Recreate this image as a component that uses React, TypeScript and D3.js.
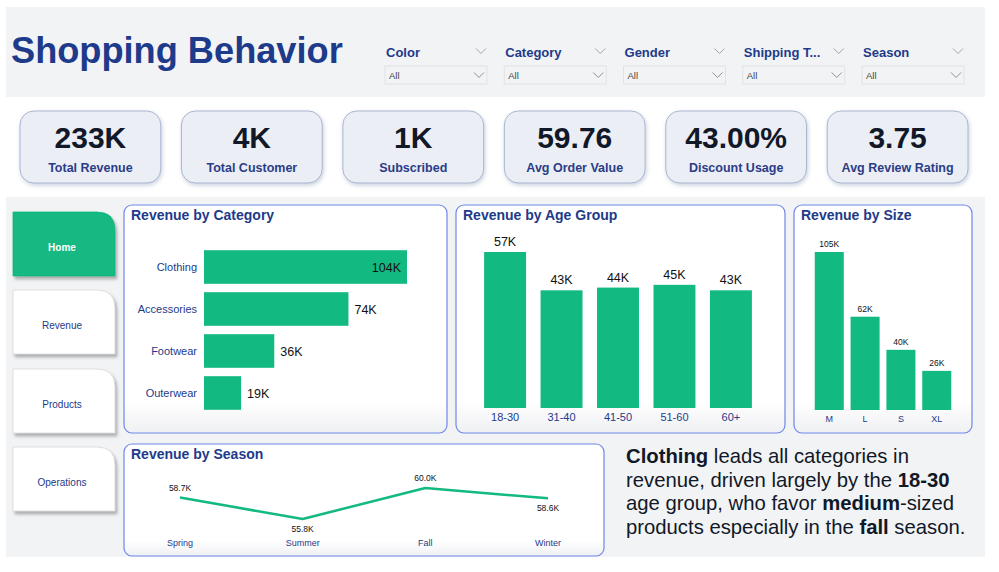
import React from 'react';
import * as d3 from 'd3';

const categories = ['Clothing', 'Accessories', 'Footwear', 'Outerwear'];
const categoryRevenue = [104, 74, 36, 19]; // K
const ageGroups = ['18-30', '31-40', '41-50', '51-60', '60+'];
const ageRevenue = [57, 43, 44, 45, 43];
const sizes = ['M', 'L', 'S', 'XL'];
const sizeRevenue = [105, 62, 40, 26];
const seasons = ['Spring', 'Summer', 'Fall', 'Winter'];
const seasonRevenue = [58.7, 55.8, 60.0, 58.6];
const kpiValues = ['233K', '4K', '1K', '59.76', '43.00%', '3.75'];
const kpiLabels = ['Total Revenue', 'Total Customer', 'Subscribed', 'Avg Order Value', 'Discount Usage', 'Avg Review Rating'];
const filterLabels = ['Color', 'Category', 'Gender', 'Shipping T...', 'Season'];
const navItems = ['Home', 'Revenue', 'Products', 'Operations'];

const GREEN = '#12b981';
const NAVY = '#1e3a8a';
const FONT = 'Arial, "Liberation Sans", sans-serif';
const BORDER = '#6f87ea';

// chevron glyph
const Chevron: React.FC<{ x: number; y: number; color?: string }> = ({ x, y, color = '#9aa0aa' }) => (
  <path d={`M${x - 5},${y - 2.5} L${x},${y + 2.5} L${x + 5},${y - 2.5}`} fill="none" stroke={color} strokeWidth={1} />
);

const Panel: React.FC<{ x: number; y: number; w: number; h: number; title: string }> = ({ x, y, w, h, title }) => (
  <g>
    <rect x={x} y={y} width={w} height={h} rx={8} fill="url(#panelGrad)" stroke={BORDER} strokeWidth={1.2} />
    <text x={x + 7} y={y + 15} fontSize={14} fontWeight="bold" fill={NAVY} fontFamily={FONT}>{title}</text>
  </g>
);

// nav button: square corners except rounded top-right
function navPath(x: number, y: number, w: number, h: number, r: number) {
  return `M${x},${y} H${x + w - r} Q${x + w},${y} ${x + w},${y + r} V${y + h} H${x} Z`;
}

const App: React.FC = () => {
  // Revenue by Category (horizontal bars)
  const catY = d3.scaleBand<string>().domain(categories).range([246, 414]).paddingInner(0.2).paddingOuter(0.1);
  const catX = d3.scaleLinear().domain([0, d3.max(categoryRevenue)!]).range([204, 407]);

  // Revenue by Age Group
  const ageX = d3.scaleBand<string>().domain(ageGroups).range([470, 766]).paddingInner(0.257).paddingOuter(0.25);
  const ageY = d3.scaleLinear().domain([0, d3.max(ageRevenue)!]).range([408, 252]);

  // Revenue by Size
  const sizeX = d3.scaleBand<string>().domain(sizes).range([804, 962]).paddingInner(0.19).paddingOuter(0.3);
  const sizeY = d3.scaleLinear().domain([0, d3.max(sizeRevenue)!]).range([410, 252]);

  // Revenue by Season (line)
  const seasonX = d3.scalePoint<string>().domain(seasons).range([180, 548]);
  const seasonY = d3.scaleLinear().domain([d3.min(seasonRevenue)!, d3.max(seasonRevenue)!]).range([519, 488]);
  const seasonLine = d3.line<number>()
    .x((_, i) => seasonX(seasons[i])!)
    .y(d => seasonY(d));
  const seasonLabelDy = [-7, 13, -7, 13];

  const kpiX = d3.scaleBand<number>().domain(d3.range(kpiValues.length)).range([20, 968]).paddingInner(0.128);
  const filterX = d3.scaleBand<number>().domain(d3.range(filterLabels.length)).range([385, 964]).paddingInner(0.145);
  const navY = [212, 290, 369, 447];

  return (
    <svg width={999} height={572} style={{ position: 'absolute', left: 0, top: 0, background: '#fff' }} fontFamily={FONT}>
      <defs>
        <linearGradient id="panelGrad" x1="0" y1="0" x2="0" y2="1">
          <stop offset="0" stopColor="#ffffff" />
          <stop offset="0.86" stopColor="#ffffff" />
          <stop offset="1" stopColor="#eff0f3" />
        </linearGradient>
        <filter id="navShadow" x="-10%" y="-10%" width="130%" height="130%">
          <feDropShadow dx={2} dy={3} stdDeviation={1.5} floodColor="#777" floodOpacity={0.55} />
        </filter>
        <filter id="cardShadow" x="-10%" y="-10%" width="130%" height="140%">
          <feDropShadow dx={1} dy={2} stdDeviation={2} floodColor="#8a9ab8" floodOpacity={0.45} />
        </filter>
      </defs>

      {/* header */}
      <rect x={6} y={7} width={979} height={90} fill="#f2f3f5" />
      <text x={11} y={63} fontSize={36.2} fontWeight="bold" fill={NAVY}>Shopping Behavior</text>

      {filterLabels.map((f, i) => {
        const x = filterX(i)!;
        const w = filterX.bandwidth();
        return (
          <g key={f}>
            <text x={x + 1} y={57} fontSize={13} fontWeight="bold" fill={NAVY}>{f}</text>
            <Chevron x={x + w - 6} y={51} color="#a0a6b0" />
            <rect x={x} y={66} width={w} height={18} fill="#f2f3f5" stroke="#e0e2e6" strokeWidth={1} />
            <text x={x + 4} y={79} fontSize={9.5} fill="#444">All</text>
            <Chevron x={x + w - 8} y={75} color="#8a909a" />
          </g>
        );
      })}

      {/* KPI cards */}
      {kpiValues.map((v, i) => {
        const x = kpiX(i)!;
        const w = kpiX.bandwidth();
        return (
          <g key={kpiLabels[i]}>
            <rect x={x} y={111} width={w} height={72} rx={14} fill="#eceef6" stroke="#a9b6cf" strokeWidth={1} filter="url(#cardShadow)" />
            <text x={x + w / 2} y={148} textAnchor="middle" fontSize={30} fontWeight="bold" fill="#111827">{v}</text>
            <text x={x + w / 2} y={172} textAnchor="middle" fontSize={12.5} fontWeight="bold" fill="#2a3d86">{kpiLabels[i]}</text>
          </g>
        );
      })}

      {/* lower background */}
      <rect x={6} y={197} width={979} height={360} fill="#f2f3f5" />

      {/* nav */}
      {navItems.map((n, i) => {
        const active = i === 0;
        return (
          <g key={n}>
            <path d={navPath(13, navY[i], 102, 64, 18)} fill={active ? GREEN : '#ffffff'} stroke={active ? GREEN : '#d8d8dc'} strokeWidth={0.8} filter="url(#navShadow)" />
            <text x={62} y={navY[i] + 39} textAnchor="middle" fontSize={10} fontWeight={active ? 'bold' : 'normal'} fill={active ? '#ffffff' : NAVY}>{n}</text>
          </g>
        );
      })}

      {/* Revenue by Category */}
      <Panel x={124} y={205} w={323} h={228} title="Revenue by Category" />
      {categories.map((c, i) => {
        const y = catY(c)!;
        const bw = catY.bandwidth();
        const x1 = catX(categoryRevenue[i]);
        const inside = i === 0;
        return (
          <g key={c}>
            <rect x={catX(0)} y={y} width={x1 - catX(0)} height={bw} fill={GREEN} />
            <text x={197} y={y + bw / 2 + 4} textAnchor="end" fontSize={11} fill={NAVY}>{c}</text>
            <text x={inside ? x1 - 6 : x1 + 6} y={y + bw / 2 + 4.5} textAnchor={inside ? 'end' : 'start'} fontSize={12.5} fill="#111">{categoryRevenue[i]}K</text>
          </g>
        );
      })}

      {/* Revenue by Age Group */}
      <Panel x={456} y={205} w={329} h={228} title="Revenue by Age Group" />
      {ageGroups.map((a, i) => {
        const x = ageX(a)!;
        const bw = ageX.bandwidth();
        return (
          <g key={a}>
            <rect x={x} y={ageY(ageRevenue[i])} width={bw} height={ageY(0) - ageY(ageRevenue[i])} fill={GREEN} />
            <text x={x + bw / 2} y={ageY(ageRevenue[i]) - 6} textAnchor="middle" fontSize={12.5} fill="#111">{ageRevenue[i]}K</text>
            <text x={x + bw / 2} y={421} textAnchor="middle" fontSize={11} fill={NAVY}>{a}</text>
          </g>
        );
      })}

      {/* Revenue by Size */}
      <Panel x={794} y={205} w={178} h={228} title="Revenue by Size" />
      {sizes.map((s, i) => {
        const x = sizeX(s)!;
        const bw = sizeX.bandwidth();
        return (
          <g key={s}>
            <rect x={x} y={sizeY(sizeRevenue[i])} width={bw} height={sizeY(0) - sizeY(sizeRevenue[i])} fill={GREEN} />
            <text x={x + bw / 2} y={sizeY(sizeRevenue[i]) - 5} textAnchor="middle" fontSize={8.5} fill="#111">{sizeRevenue[i]}K</text>
            <text x={x + bw / 2} y={422} textAnchor="middle" fontSize={9} fill={NAVY}>{s}</text>
          </g>
        );
      })}

      {/* Revenue by Season */}
      <Panel x={124} y={444} w={480} h={112} title="Revenue by Season" />
      <path d={seasonLine(seasonRevenue)!} fill="none" stroke={GREEN} strokeWidth={2.5} strokeLinejoin="round" />
      {seasons.map((s, i) => (
        <g key={s}>
          <text x={seasonX(s)!} y={seasonY(seasonRevenue[i]) + seasonLabelDy[i]} textAnchor="middle" fontSize={8.5} fill="#111">{seasonRevenue[i].toFixed(1)}K</text>
          <text x={seasonX(s)!} y={546} textAnchor="middle" fontSize={9} fill={NAVY}>{s}</text>
        </g>
      ))}

      {/* insight text */}
      <text x={626} fontSize={20.3} fill="#111827">
        <tspan x={626} y={463}><tspan fontWeight="bold">Clothing</tspan> leads all categories in</tspan>
        <tspan x={626} y={486.7}>revenue, driven largely by the <tspan fontWeight="bold">18-30</tspan></tspan>
        <tspan x={626} y={510.3}>age group, who favor <tspan fontWeight="bold">medium</tspan>-sized</tspan>
        <tspan x={626} y={534}>products especially in the <tspan fontWeight="bold">fall</tspan> season.</tspan>
      </text>
    </svg>
  );
};

export default App;
